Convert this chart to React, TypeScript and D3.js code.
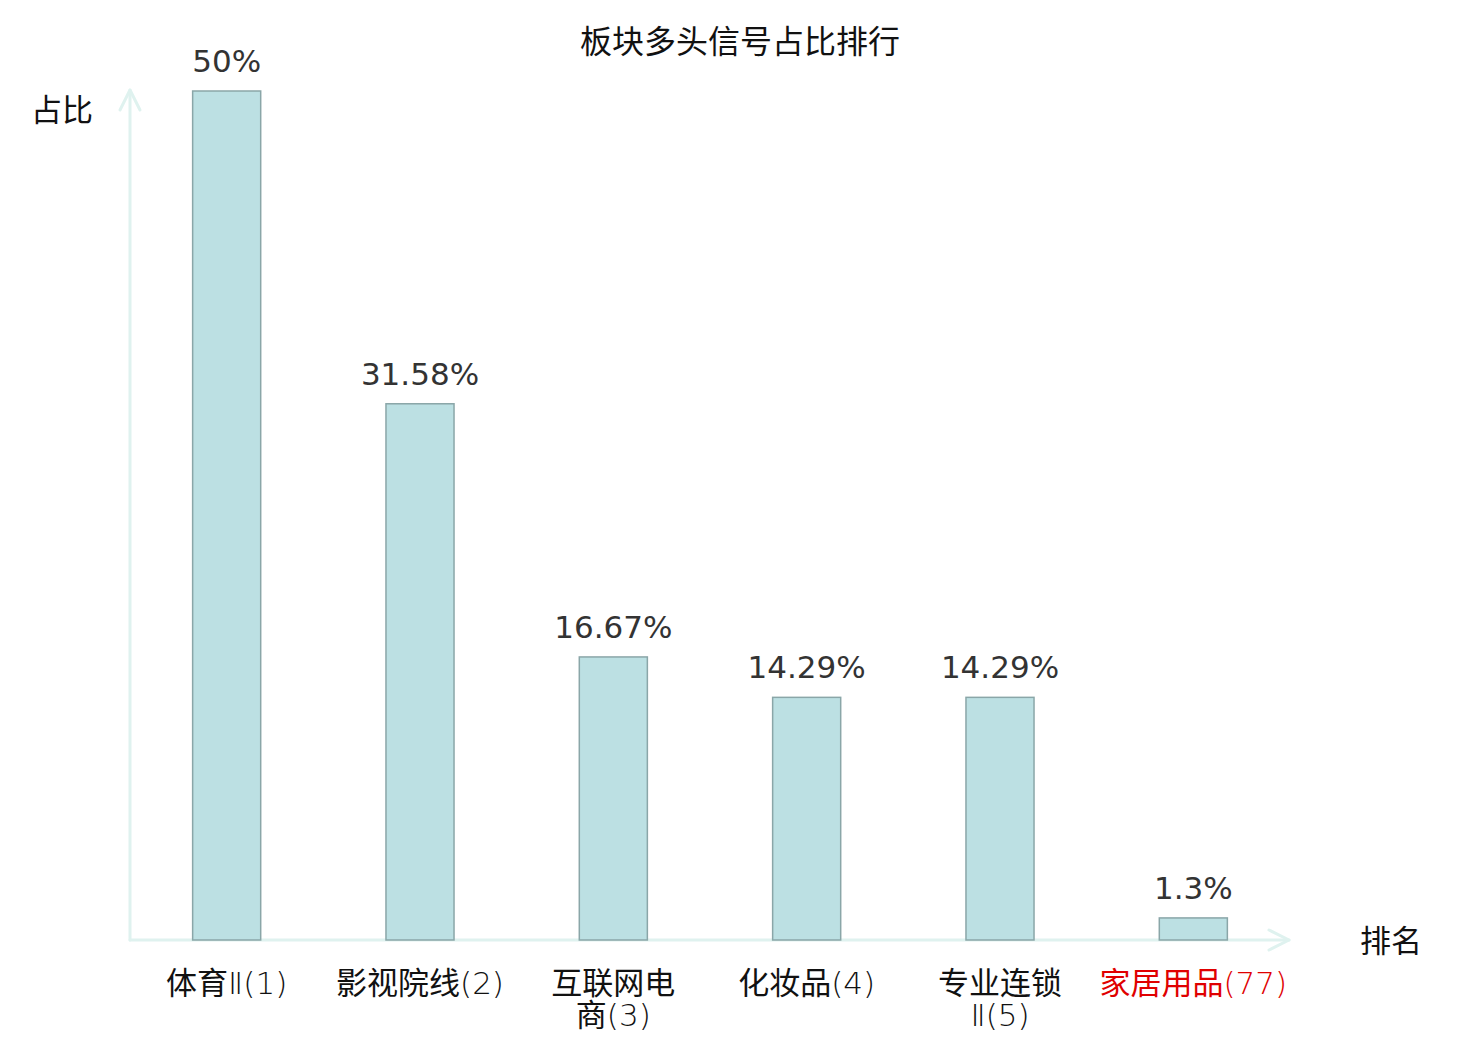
import React, { useEffect, useRef } from 'react';
import * as d3 from 'd3';

const WIDTH = 1480;
const HEIGHT = 1040;

// 板块排名数据
const categories = ['体育Ⅱ(1)', '影视院线(2)', '互联网电商(3)', '化妆品(4)', '专业连锁Ⅱ(5)', '家居用品(77)'];
const labelLines = [['体育Ⅱ(1)'], ['影视院线(2)'], ['互联网电', '商(3)'], ['化妆品(4)'], ['专业连锁', 'Ⅱ(5)'], ['家居用品(77)']];
const values = [50, 31.58, 16.67, 14.29, 14.29, 1.3];
const valueLabels = ['50%', '31.58%', '16.67%', '14.29%', '14.29%', '1.3%'];
const highlighted = ['家居用品(77)'];

const CJK = '"Noto Sans CJK SC", "Noto Sans", sans-serif';
const LATIN = '"DejaVu Sans", sans-serif';

// 把标签拆成汉字段和西文段，西文用细体
const splitRuns = (s: string) => {
  const runs: { text: string; cjk: boolean }[] = [];
  for (const ch of s) {
    const cjk = /[\u4e00-\u9fff]/.test(ch);
    const last = runs[runs.length - 1];
    if (last && last.cjk === cjk) last.text += ch;
    else runs.push({ text: ch, cjk });
  }
  return runs;
};

const App: React.FC = () => {
  const svgRef = useRef<SVGSVGElement>(null);

  useEffect(() => {
    if (!svgRef.current) return;
    const svg = d3.select(svgRef.current);
    svg.selectAll('*').remove();

    const left = 130;
    const right = 1290;
    const top = 91;
    const bottom = 940;
    const axisColor = '#dff2ef';

    const x = d3.scaleBand<string>().domain(categories).range([left, right]).padding(0);
    const y = d3.scaleLinear().domain([0, 50]).range([bottom, top]);
    const barW = x.bandwidth() * 0.352;

    // 标题
    svg.append('text')
      .attr('x', 740)
      .attr('y', 53)
      .attr('text-anchor', 'middle')
      .attr('fill', '#111')
      .style('font-family', CJK)
      .style('font-size', '32px')
      .text('板块多头信号占比排行');

    // 坐标轴（带箭头）
    const axes = svg.append('g')
      .attr('fill', 'none')
      .attr('stroke', axisColor)
      .attr('stroke-width', 3)
      .attr('stroke-linecap', 'round')
      .attr('stroke-linejoin', 'round');
    axes.append('line').attr('x1', left).attr('y1', bottom).attr('x2', left).attr('y2', 90);
    axes.append('path').attr('d', `M${left - 10},${110} L${left},${90} L${left + 10},${110}`);
    axes.append('line').attr('x1', left).attr('y1', bottom).attr('x2', 1289).attr('y2', bottom);
    axes.append('path').attr('d', `M${1269},${bottom - 10} L${1289},${bottom} L${1269},${bottom + 10}`);

    svg.append('text')
      .attr('x', 62)
      .attr('y', 121)
      .attr('text-anchor', 'middle')
      .attr('fill', '#111')
      .style('font-family', CJK)
      .style('font-size', '31px')
      .text('占比');

    svg.append('text')
      .attr('x', 1391)
      .attr('y', 952)
      .attr('text-anchor', 'middle')
      .attr('fill', '#111')
      .style('font-family', CJK)
      .style('font-size', '31px')
      .text('排名');

    // 柱子
    svg.append('g')
      .selectAll('rect')
      .data(values)
      .join('rect')
      .attr('x', (_, i) => x(categories[i])! + x.bandwidth() / 2 - barW / 2)
      .attr('y', d => y(d))
      .attr('width', barW)
      .attr('height', d => bottom - y(d))
      .attr('fill', '#bce0e3')
      .attr('stroke', '#8aa6a8')
      .attr('stroke-width', 1.5);

    // 数值标签
    svg.append('g')
      .selectAll('text')
      .data(values)
      .join('text')
      .attr('x', (_, i) => x(categories[i])! + x.bandwidth() / 2)
      .attr('y', d => y(d) - 19)
      .attr('text-anchor', 'middle')
      .attr('fill', '#333')
      .style('font-family', LATIN)
      .style('font-size', '31px')
      .text((_, i) => valueLabels[i]);

    // 分类标签
    const xl = svg.append('g');
    categories.forEach((c, i) => {
      labelLines[i].forEach((line, j) => {
        const t = xl.append('text')
          .attr('x', x(c)! + x.bandwidth() / 2)
          .attr('y', 994 + j * 32)
          .attr('text-anchor', 'middle')
          .attr('fill', highlighted.includes(c) ? '#e00000' : '#111')
          .style('font-size', '31px');
        splitRuns(line).forEach(r => {
          t.append('tspan')
            .style('font-family', r.cjk ? CJK : LATIN)
            .style('font-weight', r.cjk ? 400 : 200)
            .text(r.text);
        });
      });
    });
  }, []);

  return (
    <svg
      ref={svgRef}
      width={WIDTH}
      height={HEIGHT}
      style={{ position: 'absolute', left: 0, top: 0, background: '#fff', display: 'block' }}
    />
  );
};

export default App;
